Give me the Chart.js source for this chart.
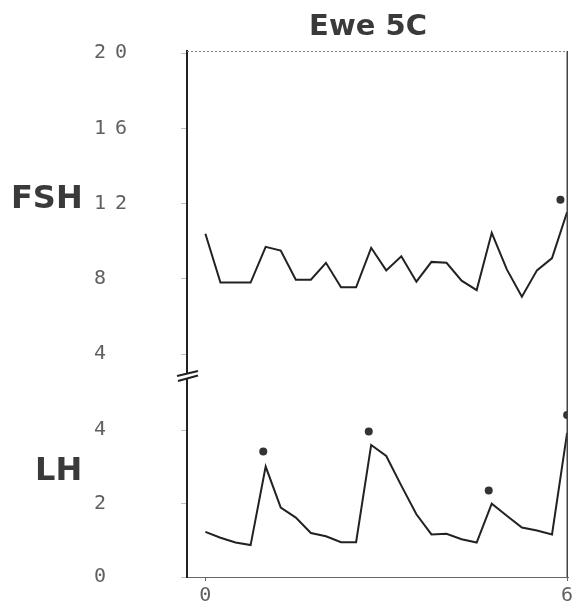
<!DOCTYPE html>
<html><head><meta charset="utf-8">
<script src="https://cdn.jsdelivr.net/npm/chart.js@4.4.1/dist/chart.umd.min.js"></script>
<style>html,body{margin:0;padding:0;background:#fff;overflow:hidden;}</style>
</head><body>
<canvas id="c" width="572" height="607" style="display:block;width:572px;height:607px"></canvas>
<script>
const chartTitle = 'Ewe 5C';
const fshLabel = 'FSH';
const lhLabel = 'LH';
const times = [0, 0.25, 0.5, 0.75, 1, 1.25, 1.5, 1.75, 2, 2.25, 2.5, 2.75, 3, 3.25, 3.5, 3.75, 4, 4.25, 4.5, 4.75, 5, 5.25, 5.5, 5.75, 6];
const fshValues = [10.4, 7.8, 7.8, 7.8, 9.7, 9.5, 7.95, 7.95, 8.85, 7.55, 7.55, 9.65, 8.45, 9.2, 7.85, 8.9, 8.85, 7.9, 7.4, 10.45, 8.5, 7.05, 8.45, 9.1, 11.55];
const lhValues = [1.23, 1.07, 0.94, 0.87, 3.01, 1.89, 1.62, 1.2, 1.11, 0.95, 0.95, 3.6, 3.3, 2.49, 1.71, 1.16, 1.18, 1.03, 0.94, 2.0, 1.67, 1.35, 1.27, 1.16, 3.93];
const fshPulseTimes = [5.89];
const fshPulseValues = [12.2];
const lhPulseTimes = [0.96, 2.71, 4.7, 6.0];
const lhPulseValues = [3.42, 3.97, 2.36, 4.42];
const fshTicks = [4, 8, 12, 16, 20];
const lhTicks = [0, 2, 4];
const xTicks = [0, 6];

const pts = (xs, ys) => xs.map((x, i) => ({x: x, y: ys[i]}));
const tickFont = {family: '"DejaVu Sans Mono", monospace', size: 20};
const tickColor = '#606060';

const deco = {
  id: 'deco',
  beforeDraw(chart) { chart.ctx.letterSpacing = '9px'; },
  afterDraw(chart) {
    const ctx = chart.ctx, a = chart.chartArea;
    ctx.letterSpacing = '0px';
    ctx.save();
    ctx.strokeStyle = '#808080'; ctx.lineWidth = 1; ctx.setLineDash([2, 2]);
    ctx.beginPath(); ctx.moveTo(a.left, a.top + 0.5); ctx.lineTo(a.right, a.top + 0.5); ctx.stroke();
    ctx.setLineDash([]);
    ctx.strokeStyle = '#444'; ctx.lineWidth = 1.5;
    ctx.beginPath(); ctx.moveTo(a.right - 0.75, a.top); ctx.lineTo(a.right - 0.75, a.bottom); ctx.stroke();
    const yb = chart.scales.yFSH.bottom, xl = a.left;
    ctx.fillStyle = '#fff'; ctx.fillRect(xl - 3, yb - 2.5, 6, 5);
    ctx.strokeStyle = '#222'; ctx.lineWidth = 2;
    ctx.beginPath();
    ctx.moveTo(xl - 10, yb); ctx.lineTo(xl + 11, yb - 5);
    ctx.moveTo(xl - 9, yb + 5); ctx.lineTo(xl + 11, yb - 0.5);
    ctx.stroke();
    ctx.fillStyle = '#3a3a3a'; ctx.textBaseline = 'middle'; ctx.textAlign = 'left';
    ctx.font = 'bold 32px "DejaVu Sans"';
    ctx.fillText(fshLabel, 11, 200);
    ctx.fillText(lhLabel, 35, 472);
    ctx.font = 'bold 29px "DejaVu Sans"'; ctx.textAlign = 'center';
    ctx.fillText(chartTitle, 368, 27);
    ctx.restore();
  }
};

const yCommon = (ticksArr) => ({
  type: 'linear', position: 'left', stack: 'v',
  afterBuildTicks: s => { s.ticks = ticksArr.map(v => ({value: v})); },
  afterFit: s => { s.width = 93; s.paddingTop = 0; s.paddingBottom = 0; },
  ticks: {font: tickFont, color: tickColor, crossAlign: 'far', padding: 4},
  grid: {display: true, drawOnChartArea: false, tickLength: 6, color: '#c0c0c0'},
  border: {display: true, color: '#222', width: 2}
});

new Chart(document.getElementById('c'), {
  type: 'line',
  data: {
    datasets: [
      {label: 'FSH', data: pts(times, fshValues), yAxisID: 'yFSH', borderColor: '#222', borderWidth: 2, pointRadius: 0, tension: 0, fill: false},
      {label: 'LH', data: pts(times, lhValues), yAxisID: 'yLH', borderColor: '#222', borderWidth: 2, pointRadius: 0, tension: 0, fill: false},
      {label: 'FSH pulse', data: pts(fshPulseTimes, fshPulseValues), yAxisID: 'yFSH', showLine: false, pointRadius: 4, pointBackgroundColor: '#333', pointBorderWidth: 0},
      {label: 'LH pulse', data: pts(lhPulseTimes, lhPulseValues), yAxisID: 'yLH', showLine: false, pointRadius: 4, pointBackgroundColor: '#333', pointBorderWidth: 0}
    ]
  },
  options: {
    responsive: false, animation: false, devicePixelRatio: 1,
    layout: {padding: {left: 94, top: 51, right: 2, bottom: 0}},
    plugins: {legend: {display: false}, title: {display: false}, tooltip: {enabled: false}},
    scales: {
      x: {
        type: 'linear', min: -0.305, max: 6.015,
        afterBuildTicks: s => { s.ticks = xTicks.map(v => ({value: v})); },
        afterFit: s => {
          s.height = 30; s.paddingLeft = 0; s.paddingRight = 0;
          if (!s._noSpacingPatched) {
            const orig = s.drawLabels;
            s.drawLabels = function (area) {
              const ctx = this.ctx, ls = ctx.letterSpacing;
              ctx.letterSpacing = '0px';
              orig.call(this, area);
              ctx.letterSpacing = ls;
            };
            s._noSpacingPatched = true;
          }
        },
        ticks: {font: tickFont, color: tickColor, padding: 3, maxRotation: 0, autoSkip: false},
        grid: {display: true, drawOnChartArea: false, tickLength: 4, color: '#666'},
        border: {display: true, color: '#666', width: 1, dash: [2, 2]}
      },
      yLH: Object.assign(yCommon(lhTicks), {min: 0, max: 5.48, stackWeight: 201}),
      yFSH: Object.assign(yCommon(fshTicks), {min: 2.83, max: 20.12, stackWeight: 325})
    }
  },
  plugins: [deco]
});
</script>
</body></html>
